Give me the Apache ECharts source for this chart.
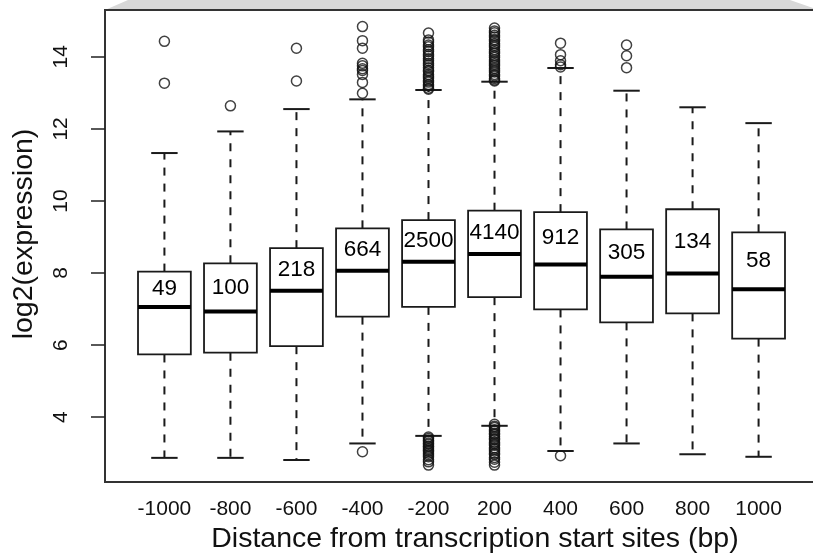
<!DOCTYPE html>
<html>
<head>
<meta charset="utf-8">
<script src="https://cdn.jsdelivr.net/npm/echarts@6/dist/echarts.min.js"></script>
<style>
html,body{margin:0;padding:0;background:#fff;}
#chart{width:813px;height:556px;}
</style>
</head>
<body>
<div id="chart"></div>
<script>
const categories = ['-1000','-800','-600','-400','-200','200','400','600','800','1000'];
const counts = [49, 100, 218, 664, 2500, 4140, 912, 305, 134, 58];
const lowerWhisker = [2.87, 2.87, 2.81, 3.27, 3.48, 3.76, 3.06, 3.27, 2.97, 2.90];
const q1 = [5.74, 5.79, 5.97, 6.79, 7.06, 7.33, 6.99, 6.63, 6.88, 6.18];
const median = [7.06, 6.93, 7.51, 8.06, 8.31, 8.53, 8.24, 7.90, 7.99, 7.55];
const q3 = [8.04, 8.27, 8.69, 9.24, 9.47, 9.73, 9.69, 9.21, 9.77, 9.13];
const upperWhisker = [11.33, 11.93, 12.55, 12.82, 13.08, 13.31, 13.69, 13.06, 12.60, 12.16];
const outliers = [
  [14.43, 13.27],
  [12.64],
  [14.24, 13.33],
  [14.84, 14.45, 14.24, 13.82, 13.75, 13.67, 13.62, 13.51, 13.29, 12.99, 3.04],
  [14.66, 14.47, 14.41, 14.33, 14.28, 14.2, 14.15, 14.07, 14.02, 13.95, 13.89, 13.82, 13.77, 13.7, 13.63, 13.59, 13.51, 13.46, 13.41, 13.34, 13.3, 13.23, 13.19, 13.13, 13.1,
   3.45, 3.41, 3.36, 3.33, 3.28, 3.25, 3.2, 3.17, 3.12, 3.08, 3.05, 3.0, 2.95, 2.9, 2.82, 2.76, 2.67],
  [14.8, 14.72, 14.67, 14.6, 14.55, 14.48, 14.44, 14.37, 14.32, 14.27, 14.2, 14.14, 14.1, 14.03, 13.98, 13.91, 13.86, 13.8, 13.75, 13.68, 13.63, 13.58, 13.51, 13.47, 13.4, 13.36, 13.33,
   3.8, 3.75, 3.71, 3.65, 3.61, 3.55, 3.52, 3.46, 3.41, 3.37, 3.3, 3.26, 3.22, 3.15, 3.11, 3.06, 3.0, 2.96, 2.88, 2.83, 2.75, 2.67],
  [14.38, 14.06, 13.89, 13.78, 13.72, 2.93],
  [14.33, 14.03, 13.7],
  [],
  []
];
const yTicks = [4, 6, 8, 10, 12, 14];
const xPositions = [1, 2, 3, 4, 5, 6, 7, 8, 9, 10];

const boxData = categories.map((c, i) => [xPositions[i], lowerWhisker[i], q1[i], median[i], q3[i], upperWhisker[i], counts[i]]);
const outlierData = [];
outliers.forEach((arr, i) => arr.forEach(v => outlierData.push([xPositions[i], v])));

const FONT = 'Liberation Sans, Arial, Helvetica, sans-serif';
const chart = echarts.init(document.getElementById('chart'), null, {renderer: 'canvas'});

function renderBox(params, api) {
  const x = api.value(0);
  const lo = api.coord([x, api.value(1)]);
  const b1 = api.coord([x, api.value(2)]);
  const md = api.coord([x, api.value(3)]);
  const b3 = api.coord([x, api.value(4)]);
  const hi = api.coord([x, api.value(5)]);
  const labelPt = api.coord([x, (api.value(3) + api.value(4)) / 2]);
  const bw = api.size([0.8, 0])[0];
  const sw = bw / 2;
  const cx = lo[0];
  const col = '#1a1a1a';
  return {
    type: 'group',
    children: [
      {type: 'line', shape: {x1: cx, y1: b3[1], x2: cx, y2: hi[1]}, style: {stroke: col, lineWidth: 2, lineDash: [8, 8]}},
      {type: 'line', shape: {x1: cx, y1: b1[1], x2: cx, y2: lo[1]}, style: {stroke: col, lineWidth: 2, lineDash: [8, 8]}},
      {type: 'line', shape: {x1: cx - sw / 2, y1: hi[1], x2: cx + sw / 2, y2: hi[1]}, style: {stroke: col, lineWidth: 2}},
      {type: 'line', shape: {x1: cx - sw / 2, y1: lo[1], x2: cx + sw / 2, y2: lo[1]}, style: {stroke: col, lineWidth: 2}},
      {type: 'rect', shape: {x: cx - bw / 2, y: b3[1], width: bw, height: b1[1] - b3[1]}, style: {fill: '#fff', stroke: col, lineWidth: 1.8}},
      {type: 'line', shape: {x1: cx - bw / 2, y1: md[1], x2: cx + bw / 2, y2: md[1]}, style: {stroke: '#000', lineWidth: 4}},
      {type: 'text', style: {text: String(api.value(6)), x: cx, y: labelPt[1], align: 'center', verticalAlign: 'middle', fontSize: 22.5, fontFamily: FONT, fill: '#000'}}
    ]
  };
}

chart.setOption({
  animation: false,
  backgroundColor: '#fff',
  graphic: [
    {type: 'polygon', shape: {points: [[105, 10], [128, 0], [790, 0], [813, 8], [813, 10]]}, style: {fill: '#d8d8d8'}, z: -1},
    {type: 'text', style: {text: 'Distance from transcription start sites (bp)', x: 475, y: 539, align: 'center', verticalAlign: 'middle', fontSize: 28.5, fontFamily: FONT, fill: '#111'}},
    {type: 'text', rotation: Math.PI / 2, x: 24, y: 234, style: {text: 'log2(expression)', x: 0, y: 0, align: 'center', verticalAlign: 'middle', fontSize: 28.5, fontFamily: FONT, fill: '#111'}}
  ],
  grid: {left: 105, top: 10, width: 713, height: 472, outerBoundsMode: 'none', show: true, borderColor: '#333', borderWidth: 2, backgroundColor: 'transparent'},
  xAxis: {
    type: 'value', min: 0.1, max: 10.9,
    axisLine: {show: false}, axisTick: {show: false}, splitLine: {show: false},
    axisLabel: {customValues: xPositions, formatter: v => categories[Math.round(v) - 1], fontSize: 21, fontFamily: FONT, color: '#111', margin: 17}
  },
  yAxis: {
    type: 'value', min: 2.2, max: 15.3,
    axisLine: {show: false}, splitLine: {show: false},
    axisTick: {show: true, customValues: yTicks, length: 14, lineStyle: {color: '#222', width: 1.5}},
    axisLabel: {customValues: yTicks, rotate: 90, fontSize: 21, fontFamily: FONT, color: '#111', margin: 33}
  },
  series: [
    {type: 'custom', renderItem: renderBox, data: boxData, encode: {x: 0, y: [1, 2, 3, 4, 5]}, clip: true, z: 2},
    {type: 'scatter', data: outlierData, symbol: 'circle', symbolSize: 10, itemStyle: {color: 'rgba(0,0,0,0)', borderColor: '#111', borderWidth: 1.5}, z: 3}
  ]
});
</script>
</body>
</html>
